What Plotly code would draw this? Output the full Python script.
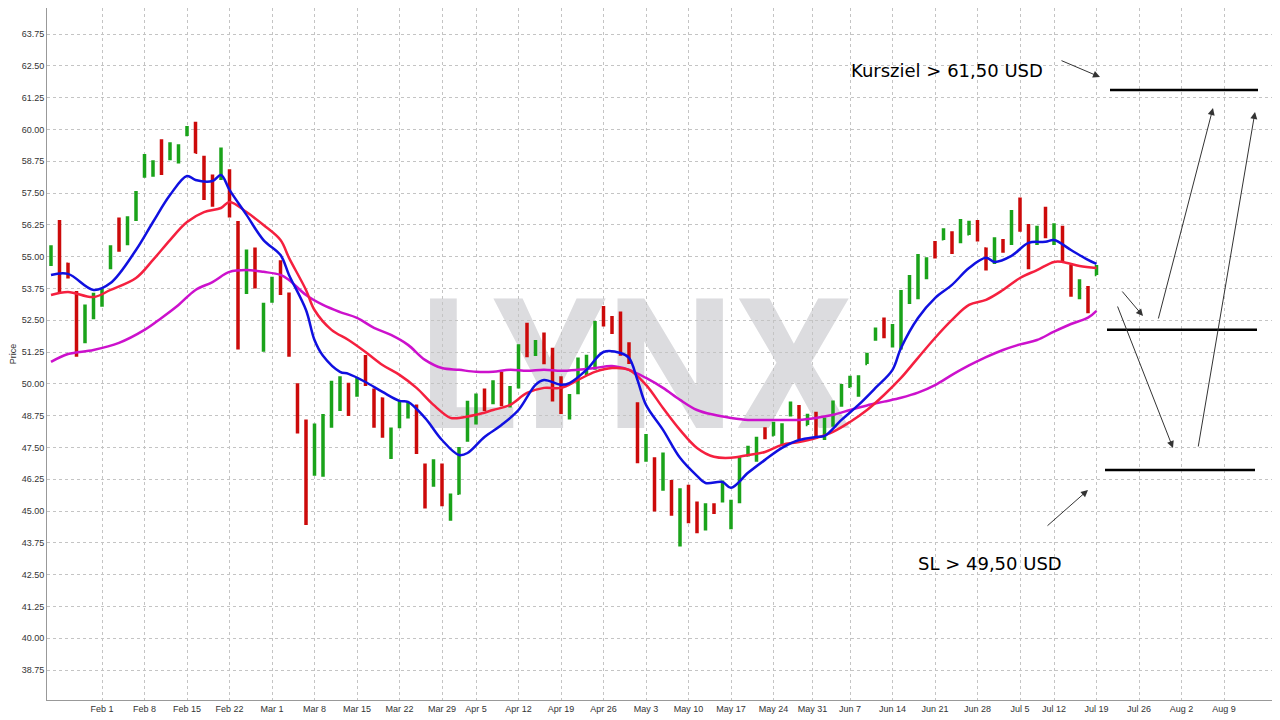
import plotly.graph_objects as go

# daily bars, Jan 22 2021 -> Jul 19 2021 (trading days)
opens = [54.8, 55.81, 54.7, 53.5, 52.11, 52.8, 53.2, 54.6, 56.4, 55.6,
         56.6, 58.2, 58.3, 59.4, 58.9, 58.8, 59.8, 60.2, 58.8, 58.0,
         58.1, 58.3, 56.2, 54.0, 55.2, 52.0, 53.3, 54.6, 53.4, 49.9,
         48.3, 46.5, 46.5, 48.4, 49.1, 49.8, 49.6, 50.9, 49.7, 49.4,
         47.5, 48.4, 48.8, 49.1, 46.6, 46.2, 46.7, 45.0, 45.7, 47.8,
         48.6, 49.7, 49.3, 50.3, 49.2, 49.9, 52.2, 51.2, 51.9, 51.3,
         50.1, 48.8, 49.7, 50.5, 50.7, 52.9, 52.6, 52.7, 51.5, 49.1,
         47.1, 47.0, 45.9, 46.1, 44.1, 45.9, 45.2, 44.4, 45.2, 45.5,
         44.4, 45.4, 47.2, 47.1, 48.2, 48.0, 47.7, 48.8, 49.0, 48.4,
         48.8, 47.9, 48.4, 49.2, 49.9, 49.6, 50.8, 51.8, 52.5, 51.5,
         51.5, 53.3, 53.5, 54.2, 55.5, 55.7, 55.9, 55.6, 55.9, 56.3,
         55.3, 54.8, 55.6, 55.6, 57.1, 56.1, 55.6, 56.8, 55.6, 56.1,
         54.5, 53.4, 53.7, 54.3]
highs = [55.45, 56.44, 54.76, 53.65, 53.12, 53.58, 53.75, 55.45, 56.54, 56.59,
         57.58, 59.03, 58.79, 59.61, 59.49, 59.42, 60.13, 60.30, 58.96, 58.23,
         59.29, 58.43, 56.40, 55.28, 55.36, 53.19, 54.21, 54.86, 53.59, 50.02,
         48.60, 48.44, 48.81, 50.12, 50.30, 50.04, 50.25, 51.13, 49.82, 49.46,
         48.28, 49.36, 49.29, 49.19, 46.87, 47.03, 46.87, 45.69, 47.52, 49.33,
         49.62, 49.82, 50.14, 50.47, 49.91, 51.55, 52.40, 51.72, 52.02, 51.42,
         50.30, 49.60, 51.03, 51.14, 52.47, 53.06, 52.67, 52.84, 51.63, 49.27,
         48.03, 47.11, 47.30, 46.22, 45.89, 46.03, 45.37, 45.30, 45.30, 46.20,
         45.44, 47.14, 47.56, 47.92, 48.29, 48.51, 48.45, 49.30, 49.17, 48.82,
         48.90, 48.68, 49.34, 49.99, 50.32, 50.34, 51.22, 52.21, 52.61, 52.35,
         53.69, 54.28, 55.10, 54.97, 55.61, 56.11, 56.00, 56.48, 56.41, 56.44,
         55.36, 55.76, 55.69, 56.83, 57.32, 56.28, 56.21, 56.96, 56.31, 56.21,
         54.67, 54.11, 53.84, 54.67]
lows = [54.63, 53.58, 54.14, 51.06, 51.59, 52.54, 53.03, 54.50, 55.19, 55.45,
        56.40, 58.10, 58.14, 58.21, 58.79, 58.66, 59.74, 59.06, 57.22, 56.96,
        58.01, 56.54, 51.35, 53.53, 53.75, 51.26, 53.19, 53.49, 51.06, 48.05,
        44.45, 46.39, 46.35, 48.27, 48.93, 48.73, 49.49, 49.91, 48.27, 47.88,
        47.04, 48.25, 48.64, 47.24, 45.10, 45.95, 45.19, 44.62, 45.65, 47.72,
        48.40, 48.93, 49.20, 49.12, 49.07, 49.82, 51.04, 51.09, 50.77, 49.30,
        48.81, 48.60, 49.59, 50.35, 50.55, 52.25, 51.96, 51.10, 50.78, 46.88,
        46.94, 44.98, 45.80, 44.81, 43.60, 44.52, 44.13, 44.23, 44.88, 45.33,
        44.28, 45.30, 47.14, 46.94, 47.82, 47.96, 47.56, 48.71, 47.82, 48.38,
        47.85, 47.79, 48.31, 49.10, 49.86, 49.49, 50.78, 51.69, 51.79, 51.43,
        51.35, 53.14, 53.32, 54.11, 54.93, 55.65, 55.10, 55.52, 55.85, 55.59,
        54.45, 54.71, 55.15, 55.46, 55.98, 54.50, 55.46, 55.72, 55.46, 54.80,
        53.42, 53.32, 52.77, 54.28]
closes = [55.2, 54.40, 54.3, 52.74, 53.03, 53.4, 53.6, 55.3, 55.4, 56.4,
          57.4, 58.9, 58.6, 58.4, 59.3, 59.3, 60.0, 59.1, 57.3, 57.2,
          59.1, 56.8, 53.9, 55.0, 53.9, 52.3, 54.0, 54.0, 52.0, 49.0,
          44.6, 48.0, 48.5, 49.5, 49.8, 49.2, 50.0, 50.0, 48.7, 48.0,
          48.2, 49.2, 49.0, 47.4, 46.2, 46.6, 45.4, 45.5, 47.4, 49.1,
          49.4, 49.1, 50.0, 49.3, 49.8, 51.3, 51.3, 51.6, 51.0, 50.2,
          49.3, 49.4, 50.8, 51.0, 52.3, 52.4, 52.2, 51.4, 51.0, 47.1,
          47.8, 45.2, 47.2, 45.0, 45.7, 44.7, 44.3, 45.1, 45.0, 46.0,
          45.3, 46.9, 47.5, 47.8, 47.9, 48.4, 48.3, 49.1, 48.0, 48.7,
          48.0, 48.5, 49.2, 49.8, 50.2, 50.2, 51.1, 52.1, 51.9, 52.2,
          53.5, 54.0, 54.9, 54.8, 55.0, 56.0, 55.2, 56.3, 56.3, 55.7,
          54.6, 55.6, 55.3, 56.6, 56.2, 55.4, 56.0, 56.1, 56.1, 55.0,
          53.6, 53.9, 52.9, 54.5]

# moving averages (bar index, price)
ma_fast_x = [0, 2, 5, 7, 10, 12, 14, 16, 17, 19, 20, 21, 23, 25, 27, 28, 30, 31, 32, 34,
             35, 37, 39, 41, 42, 44, 46, 48, 49, 51, 53, 55, 57, 58, 60, 61, 63, 65, 67, 68,
             69, 70, 72, 74, 76, 77, 79, 80, 82, 84, 86, 88, 90, 91, 93, 95, 97, 99, 100, 102,
             104, 106, 108, 110, 111, 113, 115, 117, 118, 120, 122, 123]
ma_fast = [54.28, 54.32, 53.69, 53.96, 55.26, 56.36, 57.42, 58.17, 58.01, 57.97, 58.21, 57.62,
           56.64, 55.65, 55.06, 54.28, 52.90, 51.72, 51.10, 50.47, 50.39, 50.07, 49.68, 49.33,
           49.29, 48.66, 47.79, 47.20, 47.28, 47.91, 48.38, 48.97, 49.96, 50.15, 49.96, 50.03,
           50.55, 51.25, 51.21, 51.02, 50.15, 49.17, 48.19, 47.09, 46.38, 46.10, 46.14, 45.91,
           46.50, 47.01, 47.48, 47.79, 47.91, 47.95, 48.58, 49.17, 49.84, 50.55, 51.41, 52.59,
           53.37, 53.89, 54.55, 54.95, 54.79, 55.03, 55.54, 55.58, 55.65, 55.26, 54.87, 54.71]
ma_mid_x = [0, 2, 5, 7, 10, 12, 14, 16, 18, 20, 21, 23, 25, 27, 28, 30, 31, 33, 35, 37,
            39, 41, 43, 45, 47, 48, 50, 52, 54, 56, 58, 60, 62, 64, 66, 68, 70, 72, 74, 76,
            78, 80, 82, 84, 86, 88, 90, 92, 94, 96, 98, 100, 102, 104, 106, 108, 110, 112, 114, 116,
            118, 119, 121, 123]
ma_mid = [53.49, 53.61, 53.41, 53.69, 54.16, 54.87, 55.65, 56.36, 56.75, 56.91, 57.15, 56.75,
          56.24, 55.65, 54.95, 53.69, 52.90, 52.12, 51.72, 51.25, 50.74, 50.35, 49.84, 49.17,
          48.66, 48.66, 48.78, 48.97, 49.17, 49.64, 49.84, 49.84, 50.15, 50.47, 50.62, 50.55,
          49.96, 49.05, 48.19, 47.48, 47.13, 47.09, 47.20, 47.32, 47.60, 47.71, 47.87, 48.11,
          48.50, 48.97, 49.56, 50.23, 51.02, 51.80, 52.51, 53.10, 53.30, 53.69, 54.16, 54.47,
          54.79, 54.79, 54.63, 54.55]
ma_slow_x = [0, 2, 5, 8, 11, 13, 15, 17, 19, 21, 23, 25, 27, 28, 30, 32, 34, 36, 38, 40,
             42, 44, 46, 48, 50, 52, 54, 56, 58, 60, 62, 64, 66, 68, 70, 72, 74, 76, 78, 80,
             82, 84, 86, 88, 90, 92, 94, 96, 98, 100, 102, 104, 106, 108, 110, 112, 114, 116,
             118, 120, 122, 123]
ma_slow = [50.86, 51.17, 51.33, 51.61, 52.12, 52.59, 53.10, 53.69, 54.00, 54.40, 54.47, 54.40,
           54.28, 54.08, 53.49, 53.10, 52.82, 52.59, 52.20, 51.92, 51.53, 50.94, 50.62, 50.55,
           50.47, 50.47, 50.55, 50.51, 50.55, 50.51, 50.55, 50.62, 50.70, 50.55, 50.23, 49.84,
           49.37, 48.97, 48.78, 48.66, 48.58, 48.58, 48.58, 48.58, 48.66, 48.78, 48.97, 49.15,
           49.30, 49.45, 49.65, 49.95, 50.35, 50.72, 51.05, 51.33, 51.55, 51.72, 52.05, 52.35,
           52.60, 52.87]

tick_idx = [6, 11, 16, 21, 26, 31, 36, 41, 46, 50, 55, 60, 65, 70, 75, 80, 85, 89.6,
            94, 99, 104, 109, 114, 118, 123, 128, 133, 138]
tick_text = ["Feb 1", "Feb 8", "Feb 15", "Feb 22", "Mar 1", "Mar 8", "Mar 15", "Mar 22",
             "Mar 29", "Apr 5", "Apr 12", "Apr 19", "Apr 26", "May 3", "May 10", "May 17",
             "May 24", "May 31", "Jun 7", "Jun 14", "Jun 21", "Jun 28", "Jul 5", "Jul 12",
             "Jul 19", "Jul 26", "Aug 2", "Aug 9"]

target_price = 61.55
mid_price = 52.12
stop_price = 46.61

# page pixel -> data helpers for the hand drawn annotation layer
def px_x(px):
    return (px - 51) / 8.5

def px_y(py):
    return 63.75 - (py - 34) / 25.44

bar_x = list(range(len(highs)))

fig = go.Figure()

# watermark as a shape label so it sits below the bars
fig.add_shape(type="rect", x0=px_x(415), x1=px_x(855), y0=px_y(440), y1=px_y(265),
              line=dict(width=0), fillcolor="rgba(0,0,0,0)", layer="below",
              label=dict(text="LYNX", textposition="middle center",
                         font=dict(size=182, color="#dcdcdf", family="Roboto", weight="bold")))

fig.add_trace(go.Ohlc(x=bar_x, open=opens, high=highs, low=lows, close=closes,
                      increasing=dict(line=dict(color="#1aa31a", width=3.5)),
                      decreasing=dict(line=dict(color="#cc0a0a", width=3.5)),
                      tickwidth=0.2, showlegend=False))

fig.add_trace(go.Scatter(x=ma_slow_x, y=ma_slow, mode="lines",
                         line=dict(color="#cc11cc", width=2.5, shape="spline"), showlegend=False))
fig.add_trace(go.Scatter(x=ma_mid_x, y=ma_mid, mode="lines",
                         line=dict(color="#f5203f", width=2.5, shape="spline"), showlegend=False))
fig.add_trace(go.Scatter(x=ma_fast_x, y=ma_fast, mode="lines",
                         line=dict(color="#1010e0", width=2.5, shape="spline"), showlegend=False))

for x0, x1, yv in [(1110, 1258, target_price), (1107, 1257, mid_price), (1105, 1255, stop_price)]:
    fig.add_shape(type="line", x0=px_x(x0), x1=px_x(x1), y0=yv, y1=yv,
                  line=dict(color="black", width=2.5))

arrows = [
    ((1060, 60), (1100, 77)),
    ((1046, 527), (1088, 490)),
    ((1121, 290), (1143, 316)),
    ((1158, 320), (1213, 108)),
    ((1117, 305), (1173, 448)),
    ((1198, 448), (1255, 112)),
]
for (sx, sy), (ex, ey) in arrows:
    fig.add_annotation(x=px_x(ex), y=px_y(ey), ax=px_x(sx), ay=px_y(sy),
                       xref="x", yref="y", axref="x", ayref="y", text="",
                       showarrow=True, arrowhead=2, arrowsize=1.4, arrowwidth=1,
                       arrowcolor="#333333")

fig.add_annotation(x=px_x(947), y=px_y(70), text="Kursziel > 61,50 USD", showarrow=False,
                   font=dict(size=18, color="black", family="DejaVu Sans"))
fig.add_annotation(x=px_x(990), y=px_y(563), text="SL > 49,50 USD", showarrow=False,
                   font=dict(size=18, color="black", family="DejaVu Sans"))

grid = dict(showgrid=True, gridcolor="#c4c4c4", griddash="dot", gridwidth=1)
fig.update_xaxes(range=[px_x(47), px_x(1280)], tickvals=tick_idx, ticktext=tick_text,
                 rangeslider_visible=False, showline=True, linecolor="#999999",
                 tickfont=dict(size=9, color="#333333", family="Liberation Sans"),
                 ticks="", zeroline=False, **grid)
fig.update_yaxes(range=[px_y(700), px_y(8)], tick0=38.75, dtick=1.25, tickformat=".2f",
                 showline=True, linecolor="#999999", title=dict(text="Price", standoff=6,
                 font=dict(size=9, color="#333333")),
                 tickfont=dict(size=9, color="#333333", family="Liberation Sans"),
                 ticks="", zeroline=False, **grid)

# the page adds an 8px body margin, so the figure is sized to fit inside 1280x720
fig.update_layout(width=1272, height=712, margin=dict(l=39, r=0, t=0, b=20),
                  plot_bgcolor="white", paper_bgcolor="white", showlegend=False,
                  font=dict(family="Liberation Sans"))

fig.write_html("out.html")
